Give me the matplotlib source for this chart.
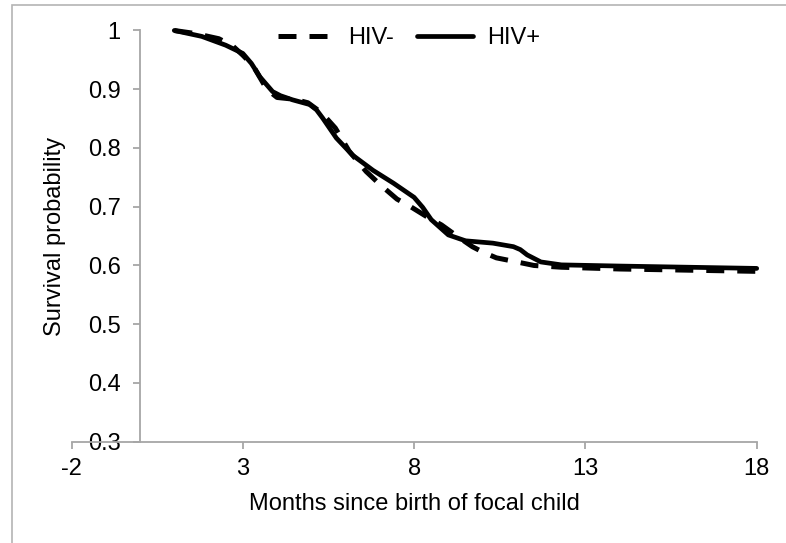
import matplotlib
matplotlib.use("Agg")
import matplotlib.pyplot as plt
from matplotlib.patches import Rectangle

plt.rcParams['font.family'] = ['Liberation Sans', 'DejaVu Sans']

# survival curves (months, probability)
hiv_neg_x = [1.0, 1.6, 2.3, 2.7, 3.0, 3.3, 3.7, 4.0, 4.5, 4.9, 5.3, 5.7, 6.1,
             6.6, 7.0, 7.5, 7.9, 8.4, 8.8, 9.3, 9.7, 10.0, 10.4, 11.0, 11.5,
             12.3, 14.0, 16.0, 18.0]
hiv_neg_y = [1.0, 0.995, 0.986, 0.974, 0.958, 0.94, 0.90, 0.886, 0.883, 0.877,
             0.86, 0.834, 0.795, 0.76, 0.738, 0.713, 0.70, 0.682, 0.669, 0.648,
             0.632, 0.623, 0.613, 0.606, 0.60, 0.597, 0.594, 0.592, 0.590]

hiv_pos_x = [1.0, 1.8, 2.5, 3.0, 3.25, 3.5, 3.87, 4.1, 4.45, 4.95, 5.15, 5.33,
             5.73, 6.2, 6.8, 7.4, 8.0, 8.25, 8.5, 9.0, 9.5, 10.3, 10.9, 11.1,
             11.3, 11.7, 12.3, 14.0, 16.0, 18.0]
hiv_pos_y = [1.0, 0.99, 0.975, 0.961, 0.944, 0.921, 0.896, 0.889, 0.882, 0.874,
             0.865, 0.851, 0.817, 0.788, 0.762, 0.74, 0.716, 0.699, 0.678, 0.652,
             0.642, 0.638, 0.632, 0.627, 0.618, 0.606, 0.601, 0.599, 0.597, 0.595]

x_ticks = [-2, 3, 8, 13, 18]
y_ticks = [0.3, 0.4, 0.5, 0.6, 0.7, 0.8, 0.9, 1.0]
y_labels = ['0.3', '0.4', '0.5', '0.6', '0.7', '0.8', '0.9', '1']

fs = 17
axis_grey = '#a6a6a6'

fig = plt.figure(figsize=(7.86, 5.43), dpi=100)
fig.patches.append(Rectangle((12 / 786, -0.1), 1.2, 1.1 - 5 / 543,
                             transform=fig.transFigure, fill=False,
                             edgecolor='#b4b4b4', linewidth=1.2))

ax = fig.add_axes([71.5 / 786, 1 - 441.7 / 543, 685.2 / 786, 411.2 / 543])

neg_line, = ax.plot(hiv_neg_x, hiv_neg_y, color='black', lw=3.6,
                    clip_on=False, dash_capstyle='butt', label='HIV-')
neg_line.set_dashes((3.6, 2.6))
ax.plot(hiv_pos_x, hiv_pos_y, color='black', lw=3.4, clip_on=False,
        solid_capstyle='round', solid_joinstyle='round', label='HIV+')

ax.set_xlim(-2, 18)
ax.set_ylim(0.3, 1.0)
ax.set_xticks(x_ticks)
ax.set_xticklabels([str(t) for t in x_ticks])
ax.set_yticks(y_ticks)
ax.set_yticklabels(y_labels)

ax.spines['top'].set_visible(False)
ax.spines['right'].set_visible(False)
ax.spines['left'].set_position(('data', 0))
for s in ('left', 'bottom'):
    ax.spines[s].set_color(axis_grey)
    ax.spines[s].set_linewidth(1.3)
ax.tick_params(axis='both', colors=axis_grey, length=5, width=1.3,
               labelcolor='black', labelsize=fs)
ax.tick_params(axis='x', pad=7)
ax.tick_params(axis='y', pad=9)

ax.set_xlabel('Months since birth of focal child', fontsize=fs)
ax.xaxis.set_label_coords(0.5, -0.125)
ax.set_ylabel('Survival probability', fontsize=fs)
ax.yaxis.set_label_coords(-0.008, 0.5)

ax.legend(loc='center', bbox_to_anchor=(0.493, 0.982), ncol=2, frameon=False,
          fontsize=fs, handlelength=2.35, handletextpad=0.6,
          columnspacing=1.0, borderpad=0)

fig.savefig('out.png', dpi=100)
